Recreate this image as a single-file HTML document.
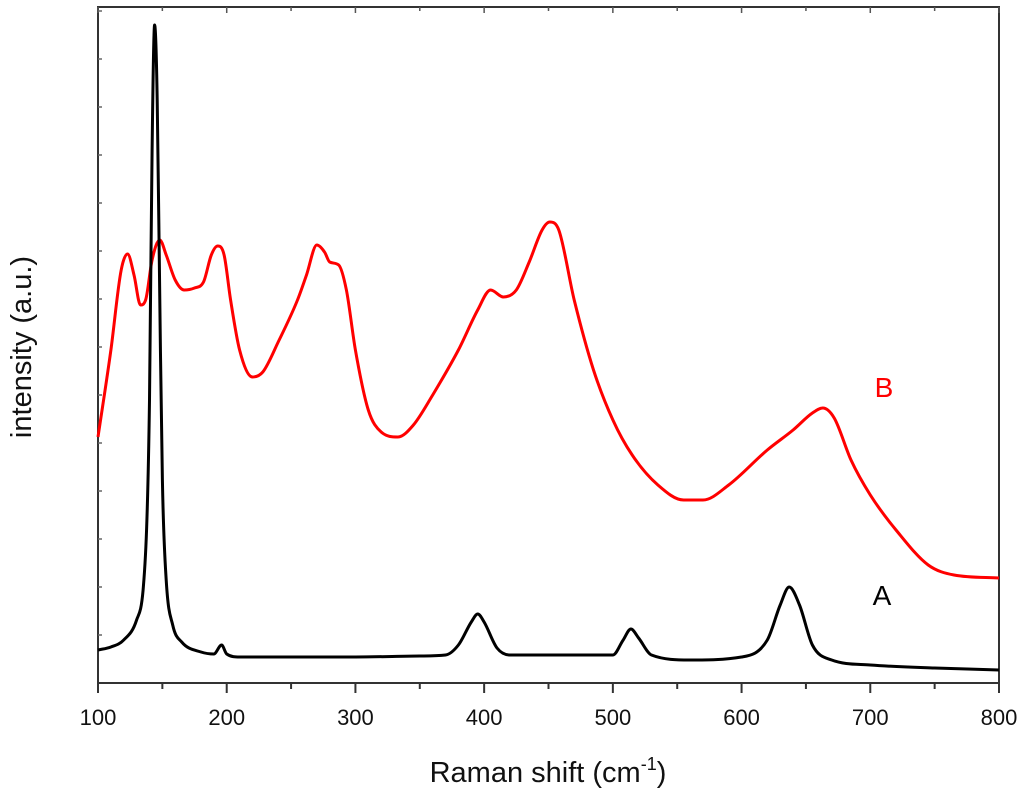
<!DOCTYPE html>
<html><head><meta charset="utf-8"><style>
html,body{margin:0;padding:0;background:#fff;}
svg{display:block;font-family:"Liberation Sans",Arial,sans-serif;}
</style></head><body>
<svg id="chart" width="1024" height="803" viewBox="0 0 1024 803">
<g id="axes"></g>
<g id="series"></g>
<text x="884" y="397" font-size="28" fill="#ff0000" text-anchor="middle">B</text>
<text x="882" y="605" font-size="28" fill="#000" text-anchor="middle">A</text>
<text x="548" y="782" font-size="29" text-anchor="middle" fill="#111">Raman shift (cm<tspan font-size="18" dy="-12">-1</tspan><tspan dy="12">)</tspan></text>
<text transform="translate(31,347) rotate(-90)" font-size="29" text-anchor="middle" fill="#111">intensity (a.u.)</text>
</svg>
<script>
const xTicks=[100,200,300,400,500,600,700,800];
const xA=[100,110,120,130,135,138,140,142,144,146,148,150,153,158,165,180,190,196,200,210,300,350,370,380,390,395,400,410,420,500,508,514,520,530,560,600,620,630,637,645,655,670,700,750,800];
const yA=[650,647,640,620,590,520,400,150,25,100,300,480,580,625,642,652,654,645,654,657,657,656,655,645,622,614,622,648,655,655,640,629,638,655,660,657,640,605,587,605,645,660,665,668,670].map(p=>(683-p)/6.76);
const xB=[100,110,118,123,128,133,137,142,148,153,160,167,175,182,188,193,198,203,210,220,228,240,255,262,270,276,280,287,293,300,310,320,333,345,360,380,395,405,415,425,435,445,451,458,470,485,500,515,535,555,570,590,620,640,655,663,672,685,700,720,745,765,800];
const yB=[437,350,270,254,275,305,300,260,240,255,280,290,288,282,255,246,255,300,350,377,372,342,300,275,245,252,262,265,290,350,410,432,437,425,395,350,310,290,297,290,262,230,222,230,300,370,420,455,485,500,500,485,450,430,413,408,418,460,495,530,565,575,578].map(p=>(683-p)/6.76);
const L=98,R=999,T=7,B=683;
const sx=v=>L+(v-100)*(R-L)/700;
const sy=v=>B-v*(B-T)/100;
const NS="http://www.w3.org/2000/svg";
const ax=document.getElementById('axes');
function mk(tag,at,parent){const e=document.createElementNS(NS,tag);for(const k in at)e.setAttribute(k,at[k]);parent.appendChild(e);return e;}
const fr=mk('rect',{x:L,y:T,width:R-L,height:B-T,fill:'none',stroke:'#333','stroke-width':2},ax);


for(let v=100;v<=800;v+=50){
  const major=v%100===0;
  const t=mk('line',{x1:sx(v),x2:sx(v),y1:B,y2:B+(major?10:6),stroke:'#333','stroke-width':2},ax);
  
  
  const t2=mk('line',{x1:sx(v),x2:sx(v),y1:T,y2:T+(major?6:4),stroke:'#555','stroke-width':1.5},ax);
  
  
}
for(let y=B-48;y>T;y-=48){
  const t=mk('line',{x1:L,x2:L+4,y1:y,y2:y,stroke:'#666','stroke-width':1.5},ax);
  
  
}
xTicks.forEach(v=>{
  const t=mk('text',{x:sx(v),y:725,'font-size':22,'text-anchor':'middle',fill:'#111'},ax);
  t.textContent=v;
  
  
});
const sg=document.getElementById('series');
function monoPath(px,py){
  const n=px.length,d=[],m=[];
  for(let i=0;i<n-1;i++)d.push((py[i+1]-py[i])/(px[i+1]-px[i]));
  m[0]=d[0];m[n-1]=d[n-2];
  for(let i=1;i<n-1;i++)m[i]=(d[i-1]*d[i]<=0)?0:(d[i-1]+d[i])/2;
  for(let i=0;i<n-1;i++){if(d[i]===0){m[i]=0;m[i+1]=0;continue;}
    const a=m[i]/d[i],b=m[i+1]/d[i],s=a*a+b*b;
    if(s>9){const t=3/Math.sqrt(s);m[i]=t*a*d[i];m[i+1]=t*b*d[i];}}
  let s='M'+px[0].toFixed(1)+','+py[0].toFixed(1);
  for(let i=0;i<n-1;i++){const h=(px[i+1]-px[i])/3;
    s+='C'+(px[i]+h).toFixed(1)+','+(py[i]+m[i]*h).toFixed(1)+' '+(px[i+1]-h).toFixed(1)+','+(py[i+1]-m[i+1]*h).toFixed(1)+' '+px[i+1].toFixed(1)+','+py[i+1].toFixed(1);}
  return s;
}
function line(xs,ys,col,name){
  const d=monoPath(xs.map(sx),ys.map(sy));
  const p=mk('path',{d:d,fill:'none',stroke:col,'stroke-width':3,'stroke-linejoin':'round'},sg);
  
  
}
line(xB,yB,'#ff0000','series-b');
line(xA,yA,'#000000','series-a');
</script>
</body></html>
